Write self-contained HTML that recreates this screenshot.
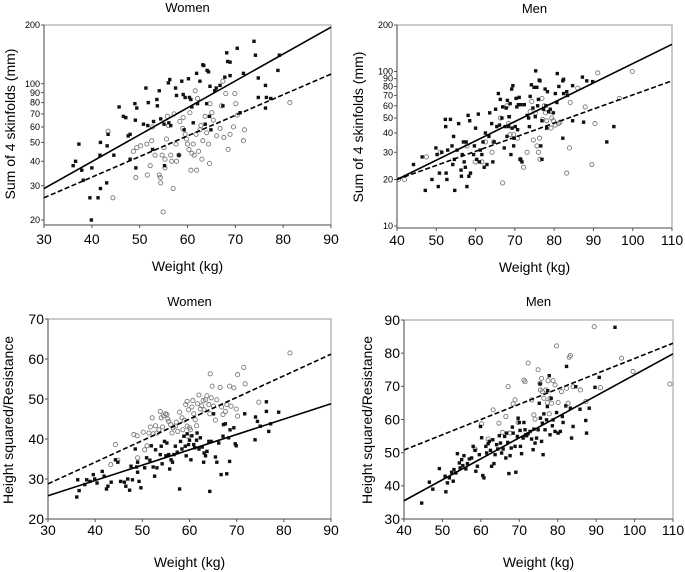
<!DOCTYPE html>
<html><head><meta charset="utf-8"><style>
html,body{margin:0;padding:0;background:#fff;}
svg{display:block;font-family:"Liberation Sans",Arial,sans-serif;}
</style></head><body>
<svg id="fig" width="685" height="572" viewBox="0 0 685 572" xmlns="http://www.w3.org/2000/svg"></svg>
<script>
// ---------- Panel 1: Women skinfolds ----------
const p1FilledW = [36.1,36.6,37.3,37.9,38.2,39.6,40,41.3,41.7,41.8,41.8,43.2,43.1,43.4,44.6,45.7,46.6,47.1,47.6,48,48,49,49.1,49.4,49.2,50.8,51.3,51.7,51.8,52.7,52.9,53.6,53.7,54.1,54.4,55.1,55.2,56,56.3,56.1,56.5,57.5,57.7,58.2,58.8,59.1,59.5,59.3,60.2,60.4,60.7,60.9,61.2,61.9,62.1,62.6,63.2,63.4,64,63.7,64.1,64.4,64.6,64.7,64.9,65.7,66,66.8,67.4,67.8,68.2,68.4,68.9,68.9,70.4,71,71.7,73.9,74.2,74.8,74.8,76.3,76.3,76.5,77.4,78.9,79.2,39.9];
const p1FilledS = [38,40,49,36,32,26,37,26,43,50,29,48,31,55,43,76,68,67,54,55,41,79,65,75,37,62,95,61,80,46,64,83,77,92,66,62,38,101,105,63,61,95,87,43,103,88,85,58,106,85,83,76,63,113,79,103,125,124,79,62,117,115,68,97,58,92,95,98,77,108,144,130,129,110,152,71,113,165,140,107,85,98,75,85,84,117,140,20];
const p1OpenW = [43.4,44.4,48.7,49.2,49.4,50.2,51.5,51.6,52.2,52.5,52.7,53.2,54.1,54.3,54.4,54.7,54.9,55.1,55.3,55.3,55.6,55.8,56,56.5,56.7,57,57.2,57.6,57.7,58.2,58.4,59,59.1,59.5,59.8,60,60.3,60.5,60.7,60.9,61.2,61.4,61.6,61.8,61.9,62.1,62.3,62.6,62.8,63,63.2,63.7,64,64.4,64.6,64.7,65.1,65.4,66.1,66.8,67.1,67.4,67.6,68,68.5,68.9,69.6,69.9,70.1,70.4,71.7,71.9,81.4];
const p1OpenS = [57,26,45,33,47,48,49,34,38,51,60,43,34,33,31,43,22,47,41,37,52,68,61,43,40,29,70,49,40,43,64,59,67,55,52,49,46,71,36,44,49,43,92,55,36,84,45,58,61,41,51,68,56,49,39,79,71,65,54,59,77,103,53,89,46,55,60,89,79,69,51,58,80];
const p1Fit = {x:[30,90], solid:[29,195], dashed:[26,112]};
const p1YTicks = [200,100,90,80,70,60,50,40,30,20];
const p1XTicks = [30,40,50,60,70,80,90];

// ---------- Panel 2: Men skinfolds ----------
const p2FilledW = [44.2,46.4,47.2,48.9,49.9,50.2,50.5,50.8,51.4,52.3,52.4,52.5,52.7,52.9,53.6,54,54.2,54.4,54.6,54.7,55.3,55.7,56.3,56.4,56.6,56.9,57.1,57.4,57.6,57.8,58.1,58.3,58.5,58.7,59.5,59.7,60,60.3,60.7,61,61.2,61.6,61.9,62.2,62.5,62.9,63.4,63.6,64.1,64.4,64.7,65.1,65.4,65.8,66.1,66.3,66.7,66.9,67.3,67.5,67.8,68,68.1,68.4,68.5,68.6,68.8,69,69.2,69.3,69.5,69.7,69.8,70.1,70.3,70.5,70.7,70.9,71.1,71.4,71.5,71.8,72.4,73.1,73.5,73.7,73.9,74.2,74.6,74.9,75.2,75.3,75.6,75.8,76,76.2,76.4,76.6,76.9,76.9,77.3,77.7,77.9,78.1,78.3,78.6,79,79.8,80.3,80.7,80.8,81.2,82.2,82.2,82.4,82.4,83.2,83.4,84.7,84.7,87.2,87.5,88.3,89.8,93.4,95.2];
const p2FilledS = [25,28,17,20,32,29,18,22,30,49,44,22,20,31,49,33,25,38,27,17,31,46,23,21,29,35,26,24,35,18,52,21,48,22,29,33,43,27,53,26,31,29,35,24,40,25,38,54,46,26,35,57,44,72,45,66,50,59,32,44,58,38,65,44,51,51,62,29,77,43,81,33,37,44,67,59,42,61,68,27,61,26,61,52,50,44,69,82,58,79,51,101,79,60,66,88,87,33,27,48,57,77,60,43,74,55,57,54,72,63,97,80,37,87,72,89,74,70,81,48,92,47,87,86,35,44];
const p2OpenW = [40.4,41.9,47.5,51,57.8,59.9,61.6,62.5,64.2,64.6,66.9,66.3,68,68.4,68.8,69.7,70.7,71.4,72.2,73.1,73.9,74.3,74.7,75.2,75.6,76,76.3,76.4,76.9,77.1,77.5,77.8,78.1,79,79.2,79.4,79.8,80.3,81.1,81.5,83.9,84.1,86,87.9,89.6,90.4,91.1,96.6,99.9,83.2];
const p2OpenS = [20,20,28,30,33,26,26,35,30,35,19,50,60,46,39,39,37,27,24,30,55,64,36,54,33,30,37,27,67,49,60,54,48,55,43,50,48,45,46,47,32,63,78,59,25,46,98,67,100,22];
const p2Fit = {x:[40,110], solid:[20,150], dashed:[20,87]};
const p2YTicks = [200,100,90,80,70,60,50,40,30,20,10];
const p2XTicks = [40,50,60,70,80,90,100,110];

// ---------- Panel 3: Women height²/resistance ----------
const p3FilledW = [36.1,36.3,36.6,37.8,38.2,38.9,39.6,39.9,40.4,41.5,41.9,42.4,42.7,43.4,44.3,44.8,45.4,46.2,46.5,46.9,47.3,47.6,47.9,48.5,48.8,49,49,49.3,49.7,50.5,50.9,51.6,51.9,52.3,52.6,52.8,53.1,53.8,54,54.2,54.7,55,55.2,55.6,55.8,56.1,56.4,56.7,57,57.4,57.9,58.1,58.4,58.8,59.1,59.3,59.5,59.8,60,60.3,60.5,60.9,61.1,61.5,61.6,62,62.3,62.7,63,63.1,63.4,63.7,64.1,64.3,64.6,65.1,65.5,65.8,66.2,66.7,67.1,67.2,67.6,67.9,68.3,68.5,68.6,69.4,69.7,69.9,71.7,73.9,74,74.4,75,76.3,76.8,77.2,78.9,76.3];
const p3FilledH = [25.5,29.8,27.1,28.6,29.8,29.4,31.1,30,29,31.9,30.7,27.5,28.2,29.2,34.8,34.2,29.4,29.2,28.2,30,27.2,33.2,29.8,37.5,33,34.2,31.7,29.4,27.8,32.8,35.3,34.7,38.3,33,30.7,37.3,32.8,36.1,38.2,33.8,39.4,35.8,39,36.1,32.5,34.8,34.2,36.1,38.2,36.7,27.5,39.4,37.5,40.7,38.2,35.8,41.3,38.6,39.7,34.8,40.8,38.6,37.8,39.7,41.5,37.5,40.3,38,34.2,36.5,35.8,36.9,39.4,26.9,39.4,46.3,35.5,34.2,39,31.1,40.7,43.6,43.8,31.3,40.3,34.4,42.3,42.8,38.8,38.3,46.3,39.8,45.5,44.4,43.2,46.9,41.9,43.8,46.7,49.3];
const p3OpenW = [44.3,43.3,44.8,48.2,48.9,49,50.2,50.5,51,51.4,51.7,52.1,52.3,52.8,53.1,53.5,53.8,54,54.3,54.5,54.9,55.2,55.4,55.6,56,56.3,56.5,57,57.2,57.5,57.9,58.4,58.6,58.9,59.2,59.5,59.5,59.6,59.8,60,60.2,60.5,60.7,60.9,61.2,61.5,61.7,62,62.3,62.6,62.9,63.1,63.4,63.7,64.1,64.3,64.4,64.6,64.8,65.1,65.5,65.8,66.5,66.8,67.1,67.6,67.9,68.5,68.8,69.4,69.9,70.2,70.2,71.5,71.8,74.7,81.3];
const p3OpenH = [38.6,33.6,34.7,41.1,40.8,35.3,41.7,37.3,38.3,41.5,43,45.3,41.3,43.3,41.5,42.3,46.9,45.3,43,45.8,46.3,46.1,45,44.4,43.6,41.5,42.8,43.2,44.2,41.9,46.7,45.3,42.3,44.7,48.6,49.4,43.2,40.7,47.3,42.8,42.3,48,49.6,46.3,44.8,43.3,48.8,51,47.5,48.3,49.6,47.3,49.8,50.8,48.6,46.3,56.3,50.3,53.2,48.2,44.7,49.8,52.9,48,46.1,46.9,48.6,53.2,48.2,52.8,47.5,56.1,45.7,57.9,53.8,49.2,61.5];
const p3Fit = {x:[30,90], solid:[25.8,48.8], dashed:[28.8,61.2]};
const p3YTicks = [70,60,50,40,30,20];
const p3XTicks = [30,40,50,60,70,80,90];

// ---------- Panel 4: Men height²/resistance ----------
const p4FilledW = [44.6,46.6,47.5,49.2,50.7,50.9,51.3,51.8,52.4,52.8,53,53.5,53.9,54.4,54.6,55,55.3,55.6,56.1,56.5,57,57.6,58,58.5,58.7,59.1,59.6,59.9,60.2,60.5,60.8,61.3,61.5,61.9,62.2,62.5,62.8,63.1,63.4,63.7,64.1,64.4,64.8,65.1,65.4,65.8,66.2,66.5,66.7,67,67.3,67.6,67.9,68.2,68.4,68.9,69.1,69.5,69.7,70,70.2,70.3,70.6,71,71.2,71.5,71.7,71.9,72.3,72.8,73.2,73.6,73.8,74.1,74.5,74.9,75.2,75.4,75.5,75.8,76,76.2,76.4,76.7,77.1,77.3,77.4,77.8,78,78.3,78.6,78.8,79.3,79.7,80.1,80.7,81.2,81.4,82.1,82.3,83.3,83.6,84,84.7,85.8,87.3,87.5,88.2,89.7,90.8,94.9];
const p4FilledH = [34.8,41.1,39,45.2,42.9,38.2,40.9,42.4,44.1,41.4,44.9,43.9,49.7,46.9,45.4,47.9,46.1,49.1,45.1,46.7,48.1,48.4,51.9,50.7,44.4,45.9,49.4,57.9,54.5,43.1,42.4,51.9,49.9,52.7,53.4,50.7,45.9,53.9,46.7,49.4,52.4,51.1,55.1,52.9,49.9,51.1,54.9,48.4,55.9,53.1,43.7,49.1,51.4,57.7,55.9,51.9,44.1,54.9,60.4,59.1,56.7,51.9,49.7,54.4,59.1,56.9,55.4,55.1,55.7,56.4,54.1,50.9,57.1,52.9,54.4,56.9,64.9,70.7,60.4,53.4,58.9,49.4,61.7,56.9,59.9,63.9,68.7,73.2,55.4,66.4,58.1,59.9,56.4,62.1,55.9,56.4,60.9,59.1,64.1,76,63.4,54.4,57.9,69.9,63.1,59.7,55.9,63.4,69.7,72.7,87.8];
const p4OpenW = [58.5,60.2,61.9,63.2,64.7,65.6,66.5,67.1,67.6,68.4,68.9,69.7,71.2,71.5,72.3,73.2,73.8,74.1,74.9,75.4,75.5,75.8,76,76.4,76.9,77.3,77.5,77.8,78,78.4,78.8,79.3,79.7,80.1,81,82.3,82.7,83,83.3,84,85.9,87.3,89.5,91.1,96.6,99.6,109.2];
const p4OpenH = [51.1,58.7,54.1,62.9,58.9,56.1,60.9,69.9,55.9,64.7,65.9,59.1,71.9,71.4,77,65.9,61.4,60.1,75,70.9,68.9,72.4,68.4,66.4,68.9,65.1,71.7,61.7,66.4,64.9,71.7,70.4,82.2,65.1,68.4,69.4,64.9,78.8,79.3,69.9,68.9,65.4,88,69.6,78.5,74.5,70.7];
const p4Fit = {x:[40,110], solid:[35.5,79.8], dashed:[50.8,83]};
const p4YTicks = [90,80,70,60,50,40,30];
const p4XTicks = [40,50,60,70,80,90,100,110];

const NS = "http://www.w3.org/2000/svg";
const svg = document.getElementById('fig');
function mk(tag, attrs, parent, text){
  const e = document.createElementNS(NS, tag);
  for (const k in attrs) e.setAttribute(k, attrs[k]);
  if (text !== undefined) e.textContent = text;
  (parent || svg).appendChild(e);
  return e;
}

function panel(cfg){
  const g = mk('g', {});
  
  
  const xs = v => cfg.L + (v - cfg.x0) / (cfg.x1 - cfg.x0) * (cfg.R - cfg.L);
  const ys = cfg.log
    ? v => cfg.yTop + (Math.log10(cfg.yHi) - Math.log10(v)) / (Math.log10(cfg.yHi) - Math.log10(cfg.yLo)) * (cfg.yBot - cfg.yTop)
    : v => cfg.yTop + (cfg.yHi - v) / (cfg.yHi - cfg.yLo) * (cfg.yBot - cfg.yTop);
  // frame
  const fr = mk('rect', {x:cfg.L, y:cfg.T, width:cfg.R-cfg.L, height:cfg.B-cfg.T, fill:'none', stroke:'#a8a8a8', 'stroke-width':1.2}, g);
  
  
  const ax = mk('path', {d:`M${cfg.L},${cfg.T}V${cfg.B}H${cfg.R}`, fill:'none', stroke:'#555', 'stroke-width':1}, g);
  
  
  // title
  const t = mk('text', {x:(cfg.L+cfg.R)/2, y:cfg.titleY, 'text-anchor':'middle', 'font-size':13}, g, cfg.title);
  
  
  // y ticks
  cfg.yTicks.forEach(v => {
    const y = ys(v);
    mk('line', {x1:cfg.L-3, x2:cfg.L, y1:y, y2:y, stroke:'#555'}, g);
    const tl = mk('text', {x:cfg.L-4, y:y + cfg.yFont*0.35, 'text-anchor':'end', 'font-size':cfg.yFont}, g, v);
    
    
  });
  cfg.xTicks.forEach(v => {
    const x = xs(v);
    mk('line', {x1:x, x2:x, y1:cfg.B, y2:cfg.B+3, stroke:'#555'}, g);
    const tl = mk('text', {x:x, y:cfg.xLabY, 'text-anchor':'middle', 'font-size':cfg.xFont}, g, v);
    
    
  });
  const xt = mk('text', {x:(cfg.L+cfg.R)/2, y:cfg.xTitleY, 'text-anchor':'middle', 'font-size':14}, g, 'Weight (kg)');
  
  
  const yt = mk('text', {x:0, y:0, 'text-anchor':'middle', 'font-size':14, transform:`translate(${cfg.yTitleX},${cfg.yTitleY}) rotate(-90)`}, g, cfg.yTitle);
  
  
  // points
  cfg.openW.forEach((w, i) => {
    const c = mk('circle', {cx:xs(w), cy:ys(cfg.openV[i]), r:2.1, fill:'none', stroke:'#7a7a7a', 'stroke-width':0.9}, g);
    
    
  });
  cfg.filledW.forEach((w, i) => {
    const r = mk('rect', {x:xs(w)-1.7, y:ys(cfg.filledV[i])-1.7, width:3.4, height:3.4, fill:'#111'}, g);
    
    
  });
  // fits
  const f = cfg.fit;
  const sl = mk('line', {x1:xs(f.x[0]), y1:ys(f.solid[0]), x2:xs(f.x[1]), y2:ys(f.solid[1]), stroke:'#000', 'stroke-width':1.6}, g);
  
  
  const dl = mk('line', {x1:xs(f.x[0]), y1:ys(f.dashed[0]), x2:xs(f.x[1]), y2:ys(f.dashed[1]), stroke:'#000', 'stroke-width':1.6, 'stroke-dasharray':'5,2.5'}, g);
  
  
}

panel({name:'women-skinfold-panel', title:'Women', titleY:12, L:44, R:331, T:25, B:225, x0:30, x1:90,
  log:true, yHi:200, yLo:20, yTop:25, yBot:220, yTicks:p1YTicks, xTicks:p1XTicks, yFont:9, xFont:14, xLabY:244,
  xTitleY:271, yTitle:'Sum of 4 skinfolds (mm)', yTitleX:15, yTitleY:124,
  filledW:p1FilledW, filledV:p1FilledS, openW:p1OpenW, openV:p1OpenS, fit:p1Fit});
panel({name:'men-skinfold-panel', title:'Men', titleY:13, L:397, R:672, T:25, B:228, x0:40, x1:110,
  log:true, yHi:200, yLo:10, yTop:25, yBot:226, yTicks:p2YTicks, xTicks:p2XTicks, yFont:9, xFont:14, xLabY:245,
  xTitleY:272, yTitle:'Sum of 4 skinfolds (mm)', yTitleX:363, yTitleY:127,
  filledW:p2FilledW, filledV:p2FilledS, openW:p2OpenW, openV:p2OpenS, fit:p2Fit});
panel({name:'women-bia-panel', title:'Women', titleY:306, L:48, R:331, T:319, B:519, x0:30, x1:90,
  log:false, yHi:70, yLo:20, yTop:319, yBot:519, yTicks:p3YTicks, xTicks:p3XTicks, yFont:14, xFont:14, xLabY:535,
  xTitleY:567, yTitle:'Height squared/Resistance', yTitleX:13, yTitleY:420,
  filledW:p3FilledW, filledV:p3FilledH, openW:p3OpenW, openV:p3OpenH, fit:p3Fit});
panel({name:'men-bia-panel', title:'Men', titleY:306, L:404, R:673, T:320, B:519, x0:40, x1:110,
  log:false, yHi:90, yLo:30, yTop:320, yBot:519, yTicks:p4YTicks, xTicks:p4XTicks, yFont:14, xFont:14, xLabY:535,
  xTitleY:567, yTitle:'Height squared/Resistance', yTitleX:372, yTitleY:420,
  filledW:p4FilledW, filledV:p4FilledH, openW:p4OpenW, openV:p4OpenH, fit:p4Fit});
</script>
</body></html>
